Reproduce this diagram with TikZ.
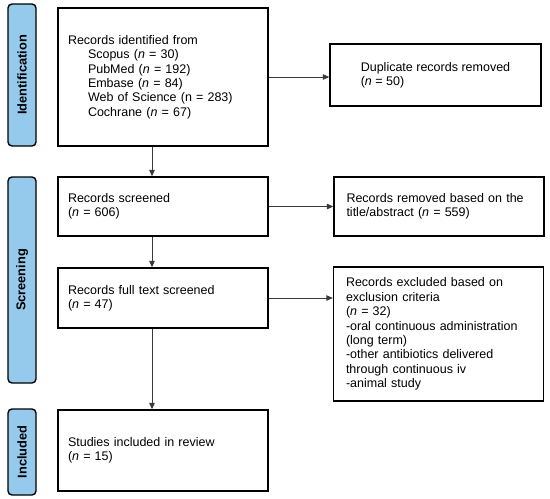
\documentclass[tikz,border=0pt]{standalone}
\usepackage{fontspec}
\setmainfont{Liberation Sans}
\usepackage{xcolor}
\usepackage{tikz}
\usetikzlibrary{arrows.meta}
\definecolor{stageblue}{HTML}{96CAEC}
\definecolor{arrowgray}{HTML}{3A3A3A}

\begin{document}
\begin{tikzpicture}[x=1pt, y=-1pt,
  >={Triangle[length=6.5pt,width=5.5pt]},
  stage/.style={draw=black, line width=1.4pt, fill=stageblue, rounded corners=4pt,
    minimum width=28pt, inner sep=0pt},
  stagetext/.style={rotate=90, font=\fontsize{12.8}{15}\selectfont\bfseries},
  box/.style={draw=black, line width=1.3pt, fill=white, inner ysep=4pt, align=left,
    font=\fontsize{12.5}{14.4}\selectfont},
  leftbox/.style={box, inner xsep=10pt, text width=190pt, minimum width=210pt},
  rightbox/.style={box, inner xsep=12.5pt, text width=185pt, minimum width=210pt},
  flow/.style={->, draw=arrowgray, line width=0.9pt}]
  \useasboundingbox (0,0) rectangle (550,499);

  % stage bars
  \node[stage, minimum height=142pt] (barid) at (22,75) {};
  \node[stagetext] at (barid) {Identification};
  \node[stage, minimum height=206pt] (barscr) at (22,280) {};
  \node[stagetext] at (barscr) {Screening};
  \node[stage, minimum height=86pt] (barinc) at (22,452) {};
  \node[stagetext] at (barinc) {Included};

  % main column
  \node[leftbox, minimum height=138pt] (ident) at (163,77) {Records identified from\\
    \hspace*{20pt}Scopus (\textit{n} = 30)\\
    \hspace*{20pt}PubMed (\textit{n} = 192)\\
    \hspace*{20pt}Embase (\textit{n} = 84)\\
    \hspace*{20pt}Web of Science (n = 283)\\
    \hspace*{20pt}Cochrane (\textit{n} = 67)};
  \node[leftbox, minimum height=59pt] (screened) at (163,206.5) {Records screened\\(\textit{n} = 606)};
  \node[leftbox, minimum height=60pt] (fulltext) at (163,298) {Records full text screened\\(\textit{n} = 47)};
  \node[leftbox, minimum height=81pt] (included) at (163,450.5) {Studies included in review\\(\textit{n} = 15)};

  % right column
  \node[box, minimum width=211pt, minimum height=62pt] (dup) at (435.5,75) {Duplicate records removed\\(\textit{n} = 50)};
  \node[rightbox, minimum height=59pt] (removed) at (439,206.5) {Records removed based on the\\title/abstract (\textit{n} = 559)};
  \node[rightbox, minimum height=134pt] (excluded) at (438.5,334) {Records excluded based on\\
    exclusion criteria\\
    (\textit{n} = 32)\\
    -oral continuous administration\\
    (long term)\\
    -other antibiotics delivered\\
    through continuous iv\\
    -animal study};

  % arrows
  \draw[flow] ([xshift=-11pt]ident.south) -- ([xshift=-11pt]screened.north);
  \draw[flow] ([xshift=-11pt]screened.south) -- ([xshift=-11pt]fulltext.north);
  \draw[flow] ([xshift=-11pt]fulltext.south) -- ([xshift=-11pt]included.north);
  \draw[flow] (ident.east) -- (ident.east -| dup.west);
  \draw[flow] (screened.east) -- (screened.east -| removed.west);
  \draw[flow] (fulltext.east) -- (fulltext.east -| excluded.west);
\end{tikzpicture}
\end{document}
